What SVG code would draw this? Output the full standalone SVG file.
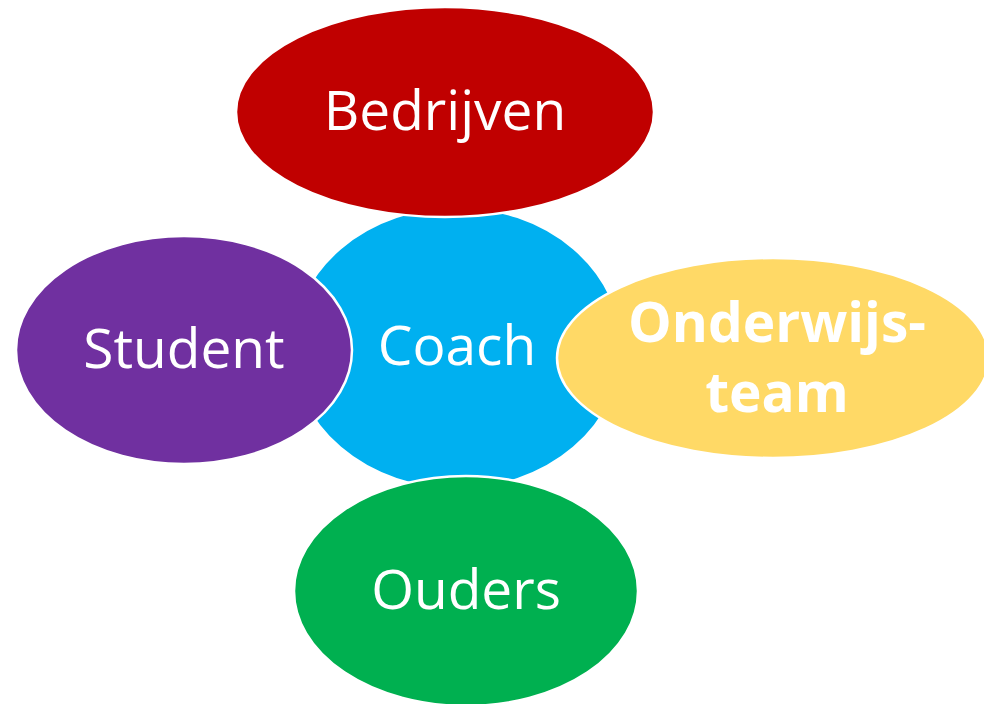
<svg xmlns="http://www.w3.org/2000/svg" width="984" height="704" viewBox="0 0 984 704">
<style>
.n{stroke:#fff;stroke-width:2.5}
.t{font-family:"Open Sans","Liberation Sans",sans-serif;font-size:55px;fill:#fff;text-anchor:middle}
.b{font-weight:bold}
</style>
<rect width="984" height="704" fill="#fff"/>
<g id="connectors"/>
<g id="coach"><ellipse class="n" cx="457" cy="348" rx="165" ry="141" fill="#00B0F0"/><text class="t" x="457" y="365">Coach</text></g>
<g id="bedrijven"><ellipse class="n" cx="445" cy="112" rx="209" ry="105" fill="#C00000"/><text class="t" x="445" y="130">Bedrijven</text></g>
<g id="onderwijsteam"><ellipse class="n" cx="773" cy="358" rx="216" ry="100" fill="#FFD966"/><text class="t b" x="777" y="342">Onderwijs-</text><text class="t b" x="777" y="412">team</text></g>
<g id="ouders"><ellipse class="n" cx="466" cy="591" rx="172" ry="115" fill="#00B050"/><text class="t" x="466" y="609">Ouders</text></g>
<g id="student"><ellipse class="n" cx="184" cy="350" rx="168" ry="114" fill="#7030A0"/><text class="t" x="184" y="368">Student</text></g>
</svg>
